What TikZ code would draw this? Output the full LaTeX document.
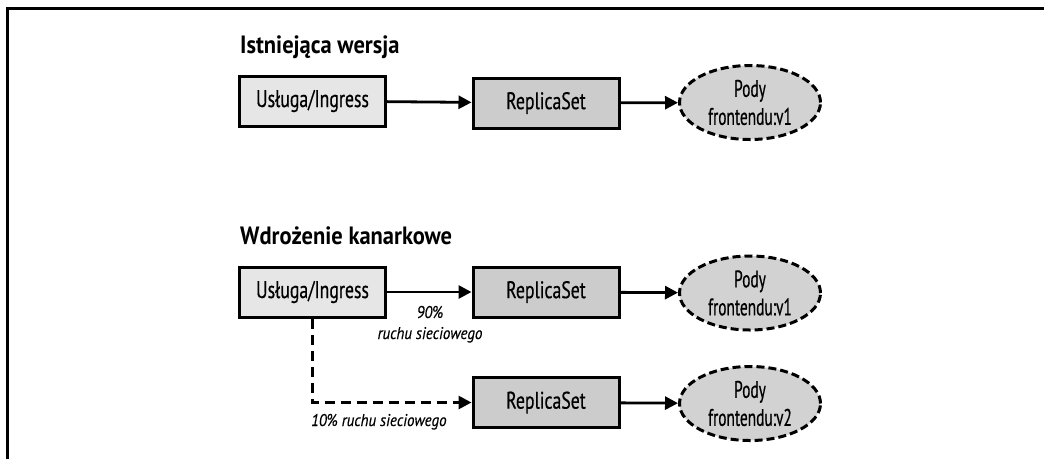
\documentclass[tikz,border=0pt]{standalone}
\usepackage{fontspec}
\setmainfont{PT Sans}[FakeStretch=0.74, FakeBold=0.5]
\newfontfamily\headfont{PT Sans}[FakeStretch=0.9]
\newfontfamily\podfont{PT Sans}[FakeStretch=0.64, FakeBold=0.5]
\newfontfamily\notefont{PT Sans}[FakeStretch=0.88, FakeBold=0.4]
\usetikzlibrary{arrows.meta,shapes.geometric}
\definecolor{svcfill}{HTML}{E6E6E6}
\definecolor{rsfill}{HTML}{CCCCCC}
\definecolor{podfill}{HTML}{D2D2D2}
\tikzset{
  box/.style={draw, line width=3pt, minimum width=146pt, minimum height=50pt,
    inner sep=0pt, font=\fontsize{24}{28}\selectfont},
  svc/.style={box, fill=svcfill},
  rs/.style={box, fill=rsfill},
  pod/.style={ellipse, draw, line width=3pt, dash pattern=on 8pt off 4pt,
    fill=podfill, minimum width=141pt, minimum height=74pt,
    inner xsep=-3pt, inner ysep=0pt, align=center,
    font=\podfont\fontsize{24}{28}\selectfont},
  flow/.style={line width=2.8pt, -{Triangle[length=13pt,width=13pt]}},
  title/.style={font=\headfont\bfseries\fontsize{25}{29}\selectfont,
    anchor=base west, inner sep=0pt},
  share/.style={font=\notefont\itshape\fontsize{17}{21}\selectfont,
    inner sep=0pt, align=center},
}
\begin{document}
\begin{tikzpicture}[x=1pt, y=-1pt]
  \useasboundingbox (0,0) rectangle (1044,459);
  % frame
  \draw[line width=3pt] (7.5,459) -- (7.5,8.5) -- (1044,8.5);

  % current version
  \node[title] (t1) at (240,53) {Istniejąca wersja};
  \node[svc] (s1) at (312.5,101) {Usługa/Ingress};
  \node[rs]  (r1) at (546,103) {ReplicaSet};
  \node[pod] (p1) at (750,102.5) {Pody\\frontendu:v1};
  \draw[flow] (s1) -- (r1);
  \draw[flow] (r1) -- (p1);

  % canary deployment
  \node[title] (t2) at (240,244) {Wdrożenie kanarkowe};
  \node[svc] (s2) at (312.5,292) {Usługa/Ingress};
  \node[rs]  (r2) at (546,292) {ReplicaSet};
  \node[pod] (p2) at (750,293) {Pody\\frontendu:v1};
  \node[rs]  (r3) at (546,402.5) {ReplicaSet};
  \node[pod] (p3) at (750,403.5) {Pody\\frontendu:v2};

  \draw[flow] (s2) -- (r2);
  \draw[flow] (r2) -- (p2);
  \draw[flow] (r3) -- (p3);
  \draw[flow, dash pattern=on 10pt off 6pt] (s2.south) |- (r3.west);

  \node[share, anchor=base] (l1) at (430,339) {90\%\\ruchu sieciowego};
  \node[share, anchor=base west] (l2) at (311,426) {10\% ruchu sieciowego};
\end{tikzpicture}
\end{document}
